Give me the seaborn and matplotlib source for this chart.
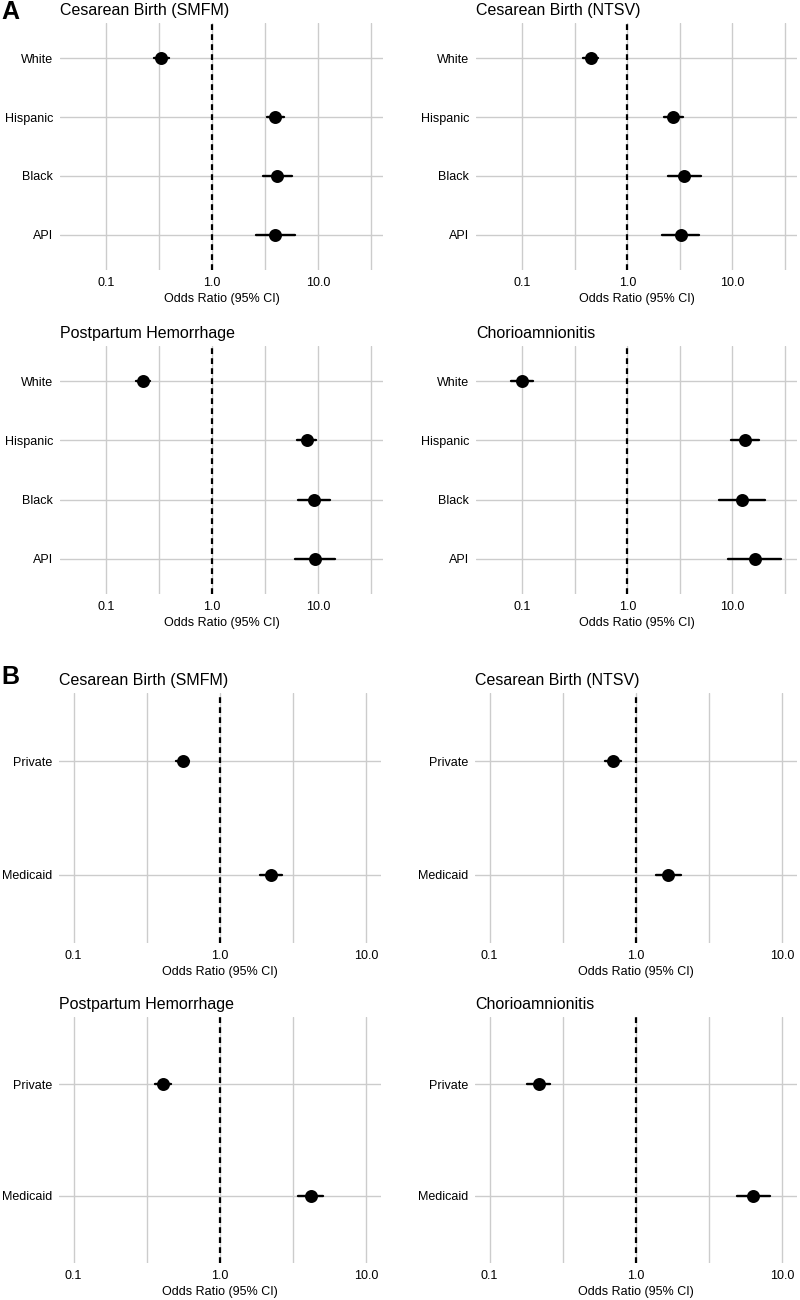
import matplotlib
matplotlib.use("Agg")
import matplotlib.pyplot as plt
import seaborn as sns
import pandas as pd
import numpy as np

# outcomes (panel titles)
outcomes = ["Cesarean Birth (SMFM)", "Cesarean Birth (NTSV)",
            "Postpartum Hemorrhage", "Chorioamnionitis"]

# A: race / ethnicity
race_groups = ["White", "Hispanic", "Black", "API"]
race_or = {
    "Cesarean Birth (SMFM)": [0.33, 3.96, 4.10, 3.96],
    "Cesarean Birth (NTSV)": [0.447, 2.73, 3.47, 3.23],
    "Postpartum Hemorrhage": [0.222, 7.82, 9.10, 9.37],
    "Chorioamnionitis":      [0.099, 13.1, 12.4, 16.3],
}
race_lo = {
    "Cesarean Birth (SMFM)": [0.28, 3.28, 3.00, 2.62],
    "Cesarean Birth (NTSV)": [0.378, 2.22, 2.44, 2.14],
    "Postpartum Hemorrhage": [0.192, 6.38, 6.43, 6.11],
    "Chorioamnionitis":      [0.0785, 9.64, 7.41, 9.09],
}
race_hi = {
    "Cesarean Birth (SMFM)": [0.39, 4.81, 5.69, 6.03],
    "Cesarean Birth (NTSV)": [0.525, 3.40, 5.01, 4.86],
    "Postpartum Hemorrhage": [0.260, 9.57, 12.97, 14.4],
    "Chorioamnionitis":      [0.128, 17.8, 20.6, 29.3],
}

# B: insurance
ins_groups = ["Private", "Medicaid"]
ins_or = {
    "Cesarean Birth (SMFM)": [0.561, 2.23],
    "Cesarean Birth (NTSV)": [0.70, 1.66],
    "Postpartum Hemorrhage": [0.41, 4.17],
    "Chorioamnionitis":      [0.219, 6.32],
}
ins_lo = {
    "Cesarean Birth (SMFM)": [0.503, 1.88],
    "Cesarean Birth (NTSV)": [0.614, 1.37],
    "Postpartum Hemorrhage": [0.36, 3.43],
    "Chorioamnionitis":      [0.179, 4.92],
}
ins_hi = {
    "Cesarean Birth (SMFM)": [0.617, 2.67],
    "Cesarean Birth (NTSV)": [0.794, 2.02],
    "Postpartum Hemorrhage": [0.463, 5.03],
    "Chorioamnionitis":      [0.260, 8.17],
}

x_ticks = [0.1, 1.0, 10.0]
x_tick_labels = ["0.1", "1.0", "10.0"]

sns.set_theme(style="white")
plt.rcParams["font.family"] = ["Liberation Sans", "DejaVu Sans"]
plt.rcParams["text.color"] = "black"
plt.rcParams["axes.labelcolor"] = "black"

W, H = 800, 1300
fig = plt.figure(figsize=(W / 100, H / 100), dpi=100)


def add_ax(left, right, top, bottom):
    return fig.add_axes([left / W, 1 - bottom / H, (right - left) / W, (bottom - top) / H])


def forest(ax, title, groups, est, lo, hi, lims):
    rows = []
    for g, e, l, h in zip(groups, est, lo, hi):
        for v in (l, e, h):
            rows.append({"group": g, "OR": v})
    df = pd.DataFrame(rows)
    ax.set_xscale("log")
    sns.pointplot(data=df, x="OR", y="group", order=groups, orient="h",
                  estimator="median", errorbar=("pi", 100),
                  color="black", linestyle="none", markers="o",
                  markersize=7.3, err_kws={"linewidth": 1.7}, ax=ax)
    # ggplot-like 5% expansion on the log scale
    a, b = np.log10(lims[0]), np.log10(lims[1])
    pad = 0.05 * (b - a)
    ax.set_xlim(10 ** (a - pad), 10 ** (b + pad))
    n = len(groups)
    ax.set_ylim(n - 1 + 0.6, -0.6)
    # grid: majors and half-decade minors
    for gx in [0.1, 10 ** -0.5, 1.0, 10 ** 0.5, 10.0, 10 ** 1.5]:
        if ax.get_xlim()[0] <= gx <= ax.get_xlim()[1]:
            ax.axvline(gx, color="#cccccc", lw=1.0, zorder=0)
    for i in range(n):
        ax.axhline(i, color="#cccccc", lw=1.0, zorder=0)
    ax.axvline(1.0, color="black", lw=1.6, ls=(0, (2.6, 1.9)), zorder=1)
    ax.set_xticks(x_ticks)
    ax.set_xticklabels(x_tick_labels)
    ax.minorticks_off()
    ax.tick_params(axis="both", length=0, labelsize=9, colors="black", pad=5)
    ax.set_xlabel("Odds Ratio (95% CI)", fontsize=9, labelpad=3, color="black")
    ax.set_ylabel("")
    ax.set_title(title, loc="left", fontsize=11.5, pad=6, x=0.0, color="black")
    for s in ax.spines.values():
        s.set_visible(False)
    ax.set_facecolor("white")


boxes_a = [(60, 383, 23, 270), (476, 797, 23, 270),
           (60, 383, 346, 594), (476, 797, 346, 594)]
boxes_b = [(59, 381, 693, 943), (475, 797, 693, 943),
           (59, 381, 1017, 1263), (475, 797, 1017, 1263)]

for box, t in zip(boxes_a, outcomes):
    ax = add_ax(*box)
    forest(ax, t, race_groups, race_or[t], race_lo[t], race_hi[t], (0.05, 30))

for box, t in zip(boxes_b, outcomes):
    ax = add_ax(*box)
    forest(ax, t, ins_groups, ins_or[t], ins_lo[t], ins_hi[t], (0.1, 10))

fig.text(1 / W, 1 - 12 / H, "A", fontsize=18, fontweight="bold", va="center", ha="left", color="black")
fig.text(1 / W, 1 - 677 / H, "B", fontsize=18, fontweight="bold", va="center", ha="left", color="black")

fig.savefig("out.png", dpi=100, facecolor="white")
